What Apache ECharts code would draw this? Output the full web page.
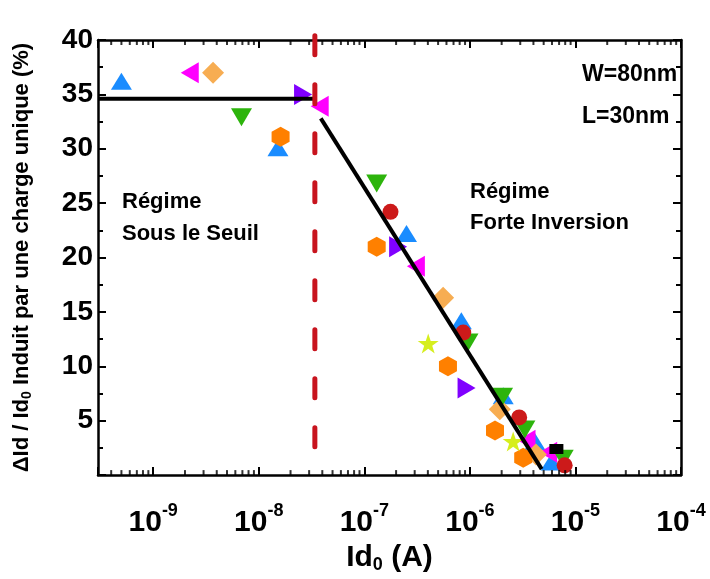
<!DOCTYPE html>
<html>
	<head>
		<meta charset="UTF-8">
		<title>Id0 - charge unique</title>
		<script src="https://cdn.jsdelivr.net/npm/echarts@6.0.0/dist/echarts.min.js"></script>
		<style type="text/css">
			html,
			body {
				margin: 0;
				padding: 0;
				background: #fff;
			}
			
			#chart {
				width: 710px;
				height: 579px;
			}
		</style>
	</head>
	<body>
		<div id="chart"></div>
		<script type="text/javascript">
			// mesures par type de symbole : [Id0 (A), dId/Id0 (%)]
			var blueTri = [[5.0e-10, 36.2], [1.52e-8, 30.1], [2.51e-7, 22.2], [8.3e-7, 14.2], [2.07e-6, 7.3], [4.13e-6, 3.1], [5.9e-6, 1.2]];
			var magentaLeft = [[2.22e-9, 37.0], [3.78e-8, 33.9], [3.08e-7, 19.2], [3.44e-6, 3.2], [5.52e-6, 2.1]];
			var peachDiamond = [[3.69e-9, 37.0], [5.58e-7, 16.3], [1.92e-6, 6.05], [4.22e-6, 1.9]];
			var greenDown = [[6.86e-9, 32.9], [1.31e-7, 26.8], [9.6e-7, 12.2], [2.04e-6, 7.2], [3.32e-6, 4.2], [7.66e-6, 1.5]];
			var orangeHex = [[1.61e-8, 31.1], [1.31e-7, 21.0], [6.2e-7, 10.0], [1.73e-6, 4.1], [3.2e-6, 1.6]];
			var purpleRight = [[2.63e-8, 35.0], [2.09e-7, 21.0], [9.3e-7, 8.0]];
			var redCircle = [[1.77e-7, 24.2], [8.65e-7, 13.1], [2.93e-6, 5.3], [7.9e-6, 0.9]];
			var yellowStar = [[4.03e-7, 12.1], [2.57e-6, 3.1]];
			var blackSquare = [[6.6e-6, 2.4]];

			// droites d'ajustement et seuil
			var fitSousSeuil = [[3e-10, 34.6], [3.4e-8, 34.6]];
			var fitForteInv = [[3.87e-8, 32.8], [4.79e-6, 0.55]];
			var seuil = [[3.4e-8, 40.4], [3.4e-8, 0]];

			// axes
			var xMin = 3e-10;
			var xMax = 1e-4;
			var yMin = 0;
			var yMax = 40;
			var yStep = 5;
			var minorDecades = [-10, -9, -8, -7, -6, -5];
			var minorFactors = [2, 3, 4, 5, 6, 7, 8, 9];

			var font = '"Liberation Sans", Arial, sans-serif';
			var hexPath = 'path://M50,0 L93.3,25 L93.3,75 L50,100 L6.7,75 L6.7,25 Z';
			var starPath = 'path://M50,0 L61.23,34.55 L97.55,34.55 L68.17,55.9 L79.39,90.45 L50,69.1 L20.61,90.45 L31.83,55.9 L2.45,34.55 L38.77,34.55 Z';

			// petites graduations log (2..9 par decade)
			var minorBottom = [];
			var minorTop = [];
			for(var i = 0; i < minorDecades.length; i++) {
				for(var j = 0; j < minorFactors.length; j++) {
					var v = minorFactors[j] * Math.pow(10, minorDecades[i]);
					if(v > xMin && v < xMax) {
						minorBottom.push([v, yMin]);
						minorTop.push([v, yMax]);
					}
				}
			}

			function pts(name, data, symbol, size, color, rotate) {
				return {
					name: name,
					type: 'scatter',
					data: data,
					symbol: symbol,
					symbolSize: size,
					symbolRotate: rotate || 0,
					itemStyle: {
						color: color,
						opacity: 1
					},
					z: 3
				};
			}

			function tickSeries(data, offset) {
				return {
					type: 'scatter',
					data: data,
					symbol: 'rect',
					symbolSize: [2, 5],
					symbolOffset: [0, offset],
					itemStyle: {
						color: '#000'
					},
					silent: true,
					clip: false,
					z: 5
				};
			}

			var axisCommon = {
				axisLine: {
					show: true,
					onZero: false,
					lineStyle: {
						color: '#000',
						width: 2.5
					}
				},
				axisTick: {
					show: true,
					inside: true,
					length: 8,
					lineStyle: {
						color: '#000',
						width: 2
					}
				},
				splitLine: {
					show: false
				}
			};

			var chart = echarts.init(document.getElementById('chart'));
			var option = {
				animation: false,
				backgroundColor: '#fff',
				grid: {
					left: 98,
					right: 29,
					top: 40,
					bottom: 103
				},
				xAxis: [Object.assign({
					type: 'log',
					min: xMin,
					max: xMax,
					position: 'bottom',
					name: '{a|Id}{s|0}{a| (A)}',
					nameLocation: 'middle',
					nameGap: 45,
					nameTextStyle: {
						rich: {
							a: {
								fontFamily: font,
								fontWeight: 'bold',
								fontSize: 30,
								color: '#000'
							},
							s: {
								fontFamily: font,
								fontWeight: 'bold',
								fontSize: 18,
								color: '#000',
								verticalAlign: 'bottom',
								padding: [14, 0, 0, 0]
							}
						}
					},
					axisLabel: {
						margin: 27,
						formatter: function(v) {
							var e = Math.log(v) / Math.LN10;
							if(Math.abs(e - Math.round(e)) > 1e-6) return '';
							return '{b|10}{s|' + Math.round(e) + '}';
						},
						rich: {
							b: {
								fontFamily: font,
								fontWeight: 'bold',
								fontSize: 30,
								color: '#000',
								lineHeight: 36,
								verticalAlign: 'bottom'
							},
							s: {
								fontFamily: font,
								fontWeight: 'bold',
								fontSize: 18,
								color: '#000',
								verticalAlign: 'top'
							}
						}
					}
				}, axisCommon), Object.assign({
					type: 'log',
					min: xMin,
					max: xMax,
					position: 'top',
					axisLabel: {
						show: false
					}
				}, axisCommon)],
				yAxis: [Object.assign({
					type: 'value',
					min: yMin,
					max: yMax,
					interval: yStep,
					position: 'left',
					name: '{a|ΔId / Id}{s|0}{a| Induit par une charge unique (%)}',
					nameLocation: 'middle',
					nameRotate: 90,
					nameGap: 64,
					nameTextStyle: {
						rich: {
							a: {
								fontFamily: font,
								fontWeight: 'bold',
								fontSize: 22,
								color: '#000'
							},
							s: {
								fontFamily: font,
								fontWeight: 'bold',
								fontSize: 14,
								color: '#000',
								verticalAlign: 'bottom',
								padding: [10, 0, 0, 0]
							}
						}
					},
					minorTick: {
						show: true,
						splitNumber: 2,
						length: 5,
						lineStyle: {
							color: '#000',
							width: 2
						}
					},
					axisLabel: {
						margin: 5,
						fontFamily: font,
						fontWeight: 'bold',
						fontSize: 28,
						color: '#000',
						formatter: function(v) {
							return v === 0 ? '' : v;
						}
					}
				}, axisCommon), Object.assign({
					type: 'value',
					min: yMin,
					max: yMax,
					interval: yStep,
					position: 'right',
					minorTick: {
						show: true,
						splitNumber: 2,
						length: 5,
						lineStyle: {
							color: '#000',
							width: 2
						}
					},
					axisLabel: {
						show: false
					}
				}, axisCommon)],
				graphic: [{
					type: 'text',
					left: 122,
					top: 186,
					style: {
						text: 'Régime\nSous le Seuil',
						font: 'bold 22px ' + font,
						lineHeight: 32,
						fill: '#000'
					}
				}, {
					type: 'text',
					left: 470,
					top: 176,
					style: {
						text: 'Régime\nForte Inversion',
						font: 'bold 22px ' + font,
						lineHeight: 31,
						fill: '#000'
					}
				}, {
					type: 'text',
					left: 582,
					top: 54,
					style: {
						text: 'W=80nm\nL=30nm',
						font: 'bold 23px ' + font,
						lineHeight: 42,
						fill: '#000'
					}
				}],
				series: [
					pts('bleu', blueTri, 'triangle', [21, 17], '#1a8cff'),
					pts('magenta', magentaLeft, 'triangle', [21, 18], '#ff00ff', 90),
					pts('peche', peachDiamond, 'diamond', [22, 22], '#f7ad52'),
					pts('vert', greenDown, 'triangle', [21, 18], '#2db40c', 180),
					pts('orange', orangeHex, hexPath, [18, 20], '#ff8000'),
					pts('violet', purpleRight, 'triangle', [21, 18], '#8000ff', -90),
					pts('rouge', redCircle, 'circle', 16, '#cc1a1a'),
					pts('jaune', yellowStar, starPath, [21, 20], '#d6ee1e'),
					pts('noir', blackSquare, 'rect', [14, 10], '#000'),
					{
						type: 'line',
						data: fitSousSeuil,
						symbol: 'none',
						lineStyle: {
							color: '#000',
							width: 4
						},
						z: 6
					}, {
						type: 'line',
						data: fitForteInv,
						symbol: 'none',
						lineStyle: {
							color: '#000',
							width: 4
						},
						z: 6
					}, {
						type: 'line',
						data: seuil,
						symbol: 'none',
						clip: false,
						lineStyle: {
							color: '#c8141e',
							width: 5,
							type: [19, 30],
							cap: 'round'
						},
						z: 7
					},
					tickSeries(minorBottom, -2.5),
					tickSeries(minorTop, 2.5)
				]
			};
			chart.setOption(option);
		</script>
	</body>
</html>
